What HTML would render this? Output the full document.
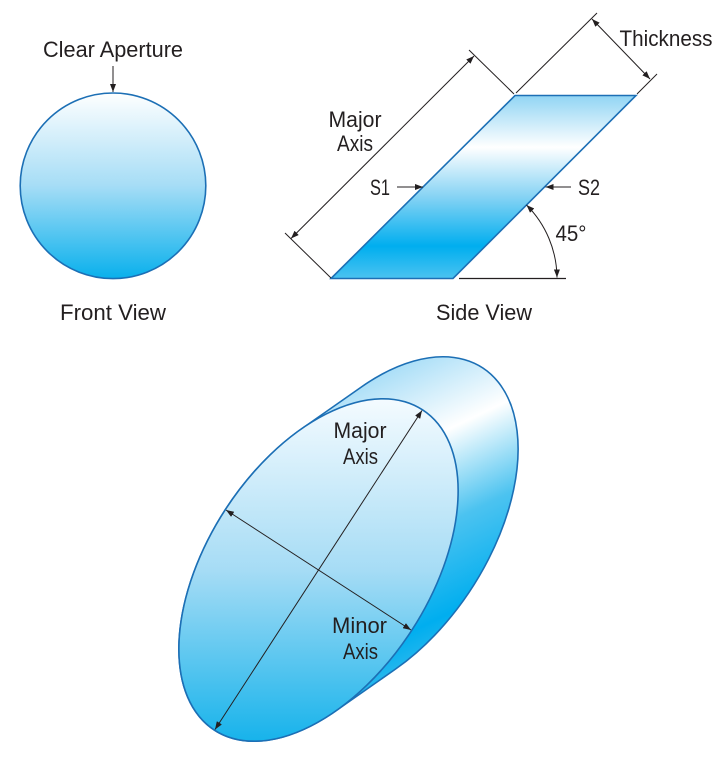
<!DOCTYPE html>
<html>
<head>
<meta charset="utf-8">
<style>
  html,body{margin:0;padding:0;background:#fff;}
  svg{display:block;}
  text{font-family:"Liberation Sans", Arial, sans-serif;font-size:22.5px;fill:#231f20;}
</style>
</head>
<body>
<svg width="725" height="760" viewBox="0 0 725 760" xmlns="http://www.w3.org/2000/svg">
  <defs>
    <linearGradient id="gCircle" gradientUnits="userSpaceOnUse" x1="0" y1="92" x2="0" y2="279">
      <stop offset="0" stop-color="#ffffff"/>
      <stop offset="0.5" stop-color="#a6ddf6"/>
      <stop offset="1" stop-color="#08b0ec"/>
    </linearGradient>
    <linearGradient id="gPara" gradientUnits="userSpaceOnUse" x1="0" y1="96" x2="0" y2="279">
      <stop offset="0" stop-color="#92d5f4"/>
      <stop offset="0.28" stop-color="#ffffff"/>
      <stop offset="0.55" stop-color="#86d3f4"/>
      <stop offset="0.82" stop-color="#00aeef"/>
      <stop offset="1" stop-color="#4cc3f0"/>
    </linearGradient>
    <linearGradient id="gSide" gradientUnits="userSpaceOnUse" x1="380" y1="370" x2="500" y2="620">
      <stop offset="0" stop-color="#a6ddf7"/>
      <stop offset="0.3" stop-color="#ffffff"/>
      <stop offset="0.6" stop-color="#4cc3f0"/>
      <stop offset="0.9" stop-color="#00aeef"/>
      <stop offset="1" stop-color="#22b6ed"/>
    </linearGradient>
    <linearGradient id="gFront" gradientUnits="userSpaceOnUse" x1="0" y1="399" x2="0" y2="741">
      <stop offset="0" stop-color="#f4fbff"/>
      <stop offset="0.5" stop-color="#a6dcf5"/>
      <stop offset="1" stop-color="#17b3eb"/>
    </linearGradient>
    <marker id="ah" viewBox="0 0 8 6" refX="8" refY="3" markerWidth="8" markerHeight="6" markerUnits="userSpaceOnUse" orient="auto-start-reverse">
      <path d="M0,0 L8,3 L0,6 z" fill="#231f20"/>
    </marker>
  </defs>

  <!-- Front View -->
  <text x="43" y="57" textLength="140" lengthAdjust="spacingAndGlyphs">Clear Aperture</text>
  <line x1="113" y1="66" x2="113" y2="92" stroke="#231f20" stroke-width="1" marker-end="url(#ah)"/>
  <circle cx="113" cy="185.8" r="92.8" fill="url(#gCircle)" stroke="#1c6fb5" stroke-width="1.6"/>
  <text x="60" y="320" textLength="106" lengthAdjust="spacingAndGlyphs">Front View</text>

  <!-- Side View -->
  <polygon points="515,95.5 636,95.5 453,278.5 331,278.5" fill="url(#gPara)" stroke="#1c6fb5" stroke-width="1.6" stroke-linejoin="miter"/>
  <!-- major axis dimension -->
  <line x1="285" y1="233" x2="331" y2="278" stroke="#231f20" stroke-width="1"/>
  <line x1="469" y1="50" x2="514" y2="94" stroke="#231f20" stroke-width="1"/>
  <line x1="291" y1="238.5" x2="474" y2="56" stroke="#231f20" stroke-width="1" marker-start="url(#ah)" marker-end="url(#ah)"/>
  <text x="328.5" y="127" textLength="53" lengthAdjust="spacingAndGlyphs">Major</text>
  <text x="337" y="151" textLength="36" lengthAdjust="spacingAndGlyphs">Axis</text>
  <!-- thickness -->
  <line x1="516" y1="93" x2="597" y2="13" stroke="#231f20" stroke-width="1"/>
  <line x1="637" y1="94" x2="657" y2="74" stroke="#231f20" stroke-width="1"/>
  <line x1="592" y1="19" x2="650" y2="79" stroke="#231f20" stroke-width="1" marker-start="url(#ah)" marker-end="url(#ah)"/>
  <text x="619.5" y="46" textLength="93" lengthAdjust="spacingAndGlyphs">Thickness</text>
  <!-- S1 / S2 -->
  <text x="370" y="195" textLength="20" lengthAdjust="spacingAndGlyphs">S1</text>
  <line x1="397" y1="187" x2="423" y2="187" stroke="#231f20" stroke-width="1" marker-end="url(#ah)"/>
  <text x="578" y="195" textLength="22" lengthAdjust="spacingAndGlyphs">S2</text>
  <line x1="571" y1="187" x2="545.5" y2="187" stroke="#231f20" stroke-width="1" marker-end="url(#ah)"/>
  <!-- 45 deg -->
  <line x1="459" y1="278.5" x2="566" y2="278.5" stroke="#231f20" stroke-width="1.2"/>
  <path d="M526.5,205 A104,104 0 0 1 557,277.5" fill="none" stroke="#231f20" stroke-width="1" marker-start="url(#ah)" marker-end="url(#ah)"/>
  <text x="555.5" y="241" textLength="31" lengthAdjust="spacingAndGlyphs">45°</text>
  <text x="436" y="320" textLength="96" lengthAdjust="spacingAndGlyphs">Side View</text>

  <!-- Bottom 3D disc -->
  <path d="M335.63,711.03 A191,111 -57 0 1 301.37,428.97 L361.37,386.97 A191,111 -57 0 1 395.63,669.03 Z" fill="url(#gSide)" stroke="#1c6fb5" stroke-width="1.6" stroke-linejoin="round"/>
  <path d="M422.52,409.81 A191,111 -57 1 1 214.48,730.19 A191,111 -57 1 1 422.52,409.81 Z" fill="url(#gFront)" stroke="#1c6fb5" stroke-width="1.6"/>
  <line x1="215" y1="729.5" x2="422" y2="410.5" stroke="#231f20" stroke-width="1" marker-start="url(#ah)" marker-end="url(#ah)"/>
  <line x1="226" y1="510" x2="411" y2="630" stroke="#231f20" stroke-width="1" marker-start="url(#ah)" marker-end="url(#ah)"/>
  <text x="333.5" y="438" textLength="53" lengthAdjust="spacingAndGlyphs">Major</text>
  <text x="343" y="464" textLength="35" lengthAdjust="spacingAndGlyphs">Axis</text>
  <text x="332" y="633" textLength="55" lengthAdjust="spacingAndGlyphs">Minor</text>
  <text x="343" y="659" textLength="35" lengthAdjust="spacingAndGlyphs">Axis</text>
</svg>
</body>
</html>
